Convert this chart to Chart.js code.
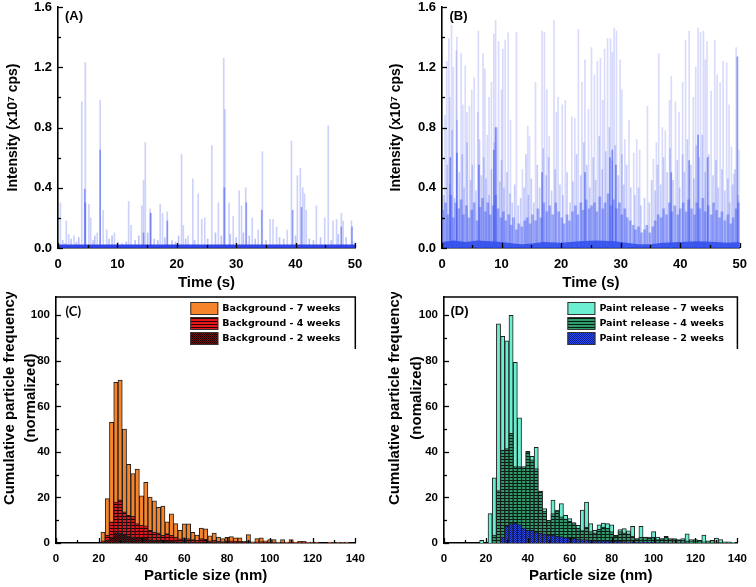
<!DOCTYPE html>
<html>
<head>
<meta charset="utf-8">
<script src="https://cdn.jsdelivr.net/npm/chart.js@4.4.1/dist/chart.umd.min.js"></script>
<style>
  body { margin: 0; background: #fff; }
  .panel { position: absolute; }
</style>
</head>
<body>
<div class="panel" style="left:0;top:0;width:378px;height:292px"><canvas id="chartA"></canvas></div>
<div class="panel" style="left:378px;top:0;width:378px;height:292px"><canvas id="chartB"></canvas></div>
<div class="panel" style="left:0;top:292px;width:378px;height:295px"><canvas id="chartC"></canvas></div>
<div class="panel" style="left:378px;top:292px;width:378px;height:295px"><canvas id="chartD"></canvas></div>
<script>
// tick labels
const timeTicks = [0, 10, 20, 30, 40, 50];
const intensityTicks = [0, 0.4, 0.8, 1.2, 1.6];
const sizeTicks = [0, 20, 40, 60, 80, 100, 120, 140];
const freqTicks = [0, 20, 40, 60, 80, 100];

// (A) background spikes [time s, intensity x10^7 cps]
const aTall = [[0.4,0.30],[1.4,0.18],[1.8,0.09],[2.7,0.08],[4.0,0.97],[4.6,1.23],[5.2,0.29],[5.5,0.2],[6.6,0.1],[7.1,0.98],
  [7.6,0.25],[8.2,0.12],[9.5,0.1],[11.9,0.31],[12.3,0.15],[14.1,0.28],[14.4,0.45],[14.7,0.70],[15.5,0.26],[15.6,0.23],
  [17.2,0.29],[17.6,0.23],[18.4,0.24],[20.8,0.62],[21.1,0.15],[21.9,0.08],[22.7,0.46],[23.6,0.36],[24.2,0.19],[24.7,0.2],
  [25.9,0.68],[27.0,0.3],[27.9,1.26],[28.1,0.92],[28.8,0.3],[29.5,0.21],[30.5,0.38],[30.9,0.28],[31.6,0.40],[32.7,0.2],
  [33.7,0.12],[34.4,0.64],[35.7,0.19],[36.2,0.19],[36.8,0.14],[38.6,0.12],[39.3,0.71],[40.3,0.48],[40.8,0.53],[41.2,0.40],
  [41.5,0.36],[41.8,0.25],[43.5,0.28],[44.9,0.2],[45.5,0.81],[46.3,0.18],[46.9,0.19],[47.7,0.23],[48.0,0.18],[49.4,0.18],[49.9,0.04]];
const aSmall = [[0.8,0.05],[1.2,0.03],[2.2,0.06],[3.1,0.04],[3.5,0.07],[5.9,0.05],[6.2,0.08],[8.6,0.06],[9.1,0.08],[10.1,0.04],
  [10.8,0.03],[11.5,0.04],[13.0,0.05],[13.6,0.08],[15.1,0.1],[16.2,0.06],[16.8,0.05],[18.0,0.07],[19.2,0.05],[19.8,0.04],
  [20.3,0.08],[21.5,0.06],[23.0,0.05],[25.2,0.06],[26.5,0.1],[27.5,0.08],[29.0,0.09],[30.0,0.07],[31.2,0.1],[32.2,0.08],
  [33.2,0.06],[35.0,0.05],[37.3,0.07],[38.0,0.06],[40.0,0.08],[42.3,0.06],[43.0,0.05],[44.2,0.07],[46.0,0.05],[47.2,0.09],[48.5,0.07]];
const aDark = [[4.5,0.39],[4.6,0.3],[7.1,0.65],[14.4,0.1],[15.6,0.23],[18.4,0.18],[28.0,0.4],[31.7,0.3],[34.3,0.25],
  [39.5,0.25],[41.0,0.27],[47.7,0.14],[49.5,0.14]];
const aBase = [[0,0.012],[50,0.012]];

// (B) paint release spikes
const bTall = [[0.5,0.88],[0.8,1.24],[1.15,1.39],[1.3,1.0],[1.6,1.48],[1.9,1.2],[2.4,1.31],[2.5,1.4],[3.2,1.29],[3.5,0.95],
  [3.9,1.21],[4.2,0.9],[4.6,0.94],[5.0,1.05],[5.4,1.13],[6.0,0.9],[6.1,1.44],[6.9,1.29],[7.2,1.19],[7.6,0.75],[7.9,1.0],
  [8.3,1.1],[8.7,1.42],[9.0,1.51],[9.5,1.37],[10.0,1.05],[10.2,1.32],[10.6,1.38],[11.1,1.43],[11.5,0.85],[12.5,1.43],
  [13.5,0.52],[14.4,0.81],[14.7,0.74],[15.7,1.1],[16.8,1.44],[17.2,1.43],[17.6,1.05],[18.0,0.74],[18.8,1.51],[19.2,0.9],
  [19.5,1.0],[20.2,0.95],[20.7,0.98],[21.8,0.87],[22.3,0.86],[22.9,1.45],[23.5,1.1],[24.0,1.25],[24.6,0.92],[25.1,1.33],
  [25.6,1.15],[26.1,1.24],[26.6,1.26],[27.0,0.98],[27.3,1.32],[27.8,1.39],[28.3,1.39],[28.6,1.3],[28.9,1.46],[29.3,1.44],
  [29.9,1.25],[30.2,1.05],[30.7,0.72],[31.4,0.85],[32.2,0.63],[32.7,0.72],[33.2,0.65],[34.5,0.94],[35.5,0.59],[36.0,0.7],
  [36.4,1.29],[37.0,0.8],[37.5,0.78],[38.2,0.98],[38.5,1.14],[39.2,0.97],[39.8,0.9],[40.4,1.1],[40.9,1.38],[41.5,1.44],
  [42.2,1.0],[42.6,1.2],[43.0,1.46],[43.4,1.43],[43.9,1.44],[44.2,1.25],[44.5,1.37],[45.2,1.04],[45.8,1.38],[46.2,1.15],
  [46.7,1.1],[47.2,1.24],[47.8,1.23],[48.2,0.95],[48.6,0.67],[49.0,0.49],[49.4,1.33],[49.9,0.65]];
const bMid = [[0.3,0.35],[0.9,0.55],[1.3,0.42],[1.7,0.78],[2.1,0.33],[2.5,0.85],[2.9,0.5],[3.4,0.62],[3.7,0.4],[4.2,0.7],
  [4.8,0.45],[5.1,0.55],[5.7,0.38],[6.3,0.72],[6.6,0.48],[7.0,0.6],[7.4,0.46],[7.9,0.35],[8.3,0.52],[8.8,0.7],[9.2,0.8],
  [9.7,0.44],[10.0,0.58],[10.4,0.4],[10.9,0.5],[11.4,0.36],[11.8,0.3],[12.2,0.42],[12.8,0.28],[13.2,0.33],[13.8,0.4],
  [14.1,0.62],[14.5,0.35],[15.0,0.46],[15.4,0.3],[16.0,0.55],[16.4,0.4],[17.0,0.66],[17.5,0.48],[17.9,0.6],[18.4,0.38],
  [19.0,0.52],[19.8,0.42],[20.3,0.35],[21.0,0.5],[21.5,0.3],[22.0,0.44],[22.6,0.62],[23.3,0.48],[23.8,0.7],[24.3,0.55],
  [24.8,0.4],[25.4,0.6],[25.8,0.45],[26.4,0.74],[26.9,0.52],[27.5,0.64],[28.1,0.8],[28.6,0.58],[29.1,0.68],[29.6,0.48],
  [30.2,0.62],[30.5,0.42],[31.0,0.55],[31.7,0.4],[32.4,0.35],[33.0,0.4],[33.4,0.28],[34.0,0.33],[34.8,0.3],[35.2,0.45],
  [35.8,0.38],[36.2,0.55],[36.7,0.42],[37.2,0.6],[37.8,0.5],[38.3,0.66],[38.8,0.45],[39.5,0.58],[39.9,0.4],[40.4,0.62],
  [40.7,0.5],[41.2,0.72],[41.8,0.55],[42.3,0.46],[42.7,0.68],[43.2,0.6],[43.7,0.75],[44.2,0.5],[44.8,0.62],[45.5,0.48],
  [46.0,0.58],[46.4,0.4],[47.0,0.52],[47.5,0.38],[48.0,0.46],[48.3,0.3],[48.8,0.42],[49.2,0.52],[49.7,0.35]];
const bLow = [[0.1,0.25],[0.6,0.3],[1.0,0.22],[1.5,0.35],[1.9,0.2],[2.3,0.3],[2.8,0.26],[3.2,0.32],[3.6,0.22],[4.1,0.28],
  [4.5,0.2],[5.0,0.25],[5.4,0.3],[5.9,0.18],[6.4,0.27],[6.8,0.33],[7.3,0.24],[7.7,0.3],[8.1,0.22],[8.6,0.28],[9.0,0.35],
  [9.4,0.26],[9.9,0.2],[10.3,0.24],[10.7,0.18],[11.2,0.22],[11.6,0.15],[12.0,0.2],[12.5,0.12],[12.9,0.16],[13.4,0.14],
  [13.9,0.18],[14.3,0.2],[14.8,0.16],[15.2,0.22],[15.7,0.18],[16.1,0.26],[16.6,0.2],[17.1,0.3],[17.6,0.24],[18.1,0.28],
  [18.6,0.22],[19.1,0.3],[19.6,0.24],[20.1,0.2],[20.5,0.16],[21.0,0.22],[21.4,0.18],[21.9,0.24],[22.4,0.28],[22.8,0.22],
  [23.3,0.3],[23.7,0.25],[24.2,0.32],[24.7,0.26],[25.1,0.28],[25.6,0.3],[26.0,0.24],[26.5,0.34],[27.0,0.26],[27.4,0.3],
  [27.9,0.36],[28.4,0.28],[28.8,0.32],[29.3,0.26],[29.8,0.3],[30.2,0.22],[30.7,0.26],[31.1,0.2],[31.6,0.18],[32.1,0.15],
  [32.5,0.12],[33.0,0.14],[33.5,0.1],[34.0,0.12],[34.4,0.15],[34.9,0.1],[35.4,0.14],[35.8,0.18],[36.3,0.22],[36.8,0.2],
  [37.2,0.26],[37.7,0.22],[38.2,0.3],[38.6,0.24],[39.1,0.28],[39.6,0.22],[40.0,0.26],[40.5,0.3],[41.0,0.24],[41.4,0.32],
  [41.9,0.26],[42.4,0.22],[42.8,0.3],[43.3,0.26],[43.8,0.33],[44.2,0.24],[44.7,0.28],[45.2,0.22],[45.6,0.3],[46.1,0.25],
  [46.6,0.2],[47.0,0.24],[47.5,0.18],[48.0,0.22],[48.5,0.16],[48.9,0.2],[49.4,0.26],[49.8,0.3]];
const bDark = [[1.4,0.6],[2.5,0.63],[6.2,0.55],[8.7,0.65],[9.0,0.8],[16.8,0.5],[24.0,0.5],[28.2,0.6],[28.6,0.65],
  [29.2,0.55],[38.5,0.5],[41.5,0.58],[43.0,0.75],[44.6,0.6],[49.6,1.27]];
const bBase = [[0,0.04],[2,0.05],[4,0.04],[6,0.05],[8,0.045],[10,0.04],[12,0.03],[13.5,0.025],[15,0.03],[17,0.04],[20,0.035],
  [23,0.045],[26,0.05],[29,0.045],[31,0.035],[33,0.025],[35,0.025],[37,0.035],[40,0.04],[43,0.045],[46,0.04],[48,0.035],[50,0.04]];

// (C)/(D) histograms, bin centres in nm
const sizeBins = [18,20,22,24,26,28,30,32,34,36,38,40,42,44,46,48,50,52,54,56,58,60,62,64,66,68,70,72,74,76,
  78,80,82,84,86,88,90,92,94,96,98,100,102,104,106,108,110,112,114,116,118,120,122,124,126,128,130,132,134,136,138];
const bg7 = [0,0,4.8,19.5,53,70.5,71.5,50,34.5,30.5, 32.5,20.7,26.6,20.2,18.5,15.7,16.2,9.3,12.8,8.5,
  5.6,8.4,8.4,4.7,3.5,6.5,6.2,3.1,4.4,2.6, 1.9,2.5,2.8,2.3,2.3,0.7,3.7,0.5,1.9,2.3,
  0.9,1.5,1.5,0.3,1.5,0.4,1.5,0.4,0.7,0.7, 0.3,0.4,0.4,0,0,0.4,0.2,0.4,0.2,0.4, 0];
const bg4 = [0,0,1,3.4,9.3,18,19,13.7,12.2,11.7, 8.5,7.8,7.5,5.6,4.8,4.5,3.4,4.1,3.4,2.6,
  1.8,2.3,1.9,1.5,1.2,1.9,1.6,1.0,1.2,0.8, 0.6,0.8,0.9,0.7,0.7,0.3,0.9,0.2,0.5,0.6,
  0.3,0.4,0.4,0.1,0.4,0.1,0.4,0.1,0.2,0.2, 0.1,0.1,0.1,0,0,0.1,0,0.1,0,0.1, 0];
const bg2 = [0,0,0.3,1.2,2.5,4.5,4.2,3.5,3,2.6, 2.4,2,2,1.5,1.2,1.1,0.9,1,0.8,0.6,
  0.5,0.6,0.5,0.4,0.3,0.5,0.4,0.3,0.3,0.2, 0.2,0.2,0.2,0.2,0.2,0.1,0.2,0,0.1,0.1,
  0.1,0.1,0.1,0,0.1,0,0.1,0,0,0, 0,0,0,0,0,0,0,0,0,0, 0];
const pr7 = [1.2,0,12.9,28.6,96.2,90.7,88.8,99.9,79.3,54.9, 33.5,40.2,38,42,22.8,15.1,10,18.8,14.4,17.3,
  12.2,10.7,9,7.8,14.4,18,8.5,5.6,8,8.8, 8.5,8,3.4,5.9,6.3,5.3,7.3,1.9,7.3,2.6,
  2.6,5,2.6,1.9,2.9,1.9,1.9,1.5,1.9,4, 1.5,1.5,1.2,3.5,0.9,1.2,2.2,1.5,0.5,0.5, 0.3];
const pr4 = [0,0,0,3.5,23,40.8,41.5,48.2,33.5,33.5, 33,40,36.5,32.7,22.8,14,10,12.9,14,11.5,
  10.5,9.5,8.5,6.5,5.5,7,5,4.5,6,7, 6.5,5,3,5,4.5,4,3,1.8,2.5,2.5,
  2,2.5,1.5,1.8,2.5,1.5,1.5,1.2,1.2,1, 1,1,1,0.5,0.5,0.5,0.5,0.3,0.2,0.2, 0];
const pr2 = [0,0,0,0,0,2.6,7.3,8.5,8.8,8.1, 6.6,5.6,5.6,4.8,4.4,4,3.5,3.5,3,2.8,
  2.5,2,2,1.8,1.5,1.5,1.2,1,1,1, 1,1,0.8,0.8,0.6,0.5,0.5,0.4,0.4,0.3,
  0.3,0.3,0.2,0.2,0.2,0.1,0.1,0.1,0.1,0.1, 0,0,0,0,0,0,0,0,0,0, 0];

const tickFont = { family: 'Liberation Sans', size: 13, weight: 'bold' };
const sizeTickFont = { family: 'Liberation Sans', size: 11.5, weight: 'bold' };
const titleFont = { family: 'Liberation Sans', size: 15, weight: 'bold' };

function pattern(w, h, base, ink, draw) {
  const c = document.createElement('canvas');
  c.width = w; c.height = h;
  const g = c.getContext('2d');
  g.fillStyle = base; g.fillRect(0, 0, w, h);
  g.fillStyle = ink; draw(g);
  return g.createPattern(c, 'repeat');
}
const redLines = pattern(4, 3, '#e5171d', '#2a0000', g => g.fillRect(0, 2, 4, 1));
const darkCheck = pattern(2, 2, '#74100f', '#140000', g => { g.fillRect(0, 0, 1, 1); g.fillRect(1, 1, 1, 1); });
const greenLines = pattern(4, 3, '#2f9c6c', '#061c12', g => g.fillRect(0, 2, 4, 1));
const blueDots = pattern(2, 2, '#2a4cf4', '#0c1a92', g => { g.fillRect(0, 0, 1, 1); g.fillRect(1, 1, 1, 1); });

// inward major/minor tick marks
const inTicks = {
  id: 'inTicks',
  afterDatasetsDraw(chart) {
    const ctx = chart.ctx, a = chart.chartArea;
    ctx.save();
    ctx.strokeStyle = '#000';
    ctx.lineWidth = 1.3;
    function mark(s, v, len) {
      const p = Math.round(s.getPixelForValue(v)) + 0.5;
      ctx.beginPath();
      if (s.axis === 'x') { ctx.moveTo(p, a.bottom); ctx.lineTo(p, a.bottom - len); }
      else { ctx.moveTo(a.left, p); ctx.lineTo(a.left + len, p); }
      ctx.stroke();
    }
    ['x', 'y'].forEach(function (id) {
      const s = chart.scales[id];
      const vals = s.ticks.map(t => t.value);
      for (let i = 0; i < vals.length; i++) {
        mark(s, vals[i], 5);
        if (i < vals.length - 1) mark(s, (vals[i] + vals[i + 1]) / 2, 3);
      }
    });
    ctx.restore();
  }
};

const panelTag = {
  id: 'panelTag',
  afterDraw(chart, args, opts) {
    const ctx = chart.ctx, a = chart.chartArea;
    ctx.save();
    ctx.font = opts.font;
    ctx.fillStyle = '#000';
    ctx.textBaseline = 'middle';
    ctx.fillText(opts.text, a.left + opts.dx, a.top + opts.dy);
    ctx.restore();
  }
};

// two-line rotated y title, shifted like the original
const sideTitle = {
  id: 'sideTitle',
  afterDraw(chart, args, opts) {
    const ctx = chart.ctx;
    ctx.save();
    ctx.font = 'bold 15px "Liberation Sans"';
    ctx.fillStyle = '#000';
    ctx.textAlign = 'center';
    ctx.textBaseline = 'middle';
    opts.lines.forEach(function (line, i) {
      ctx.save();
      ctx.translate(opts.x[i], opts.y);
      ctx.rotate(-Math.PI / 2);
      ctx.fillText(line, 0, 0);
      ctx.restore();
    });
    ctx.restore();
  }
};

// framed legend in the top right corner
const boxLegend = {
  id: 'boxLegend',
  afterDraw(chart, args, opts) {
    const ctx = chart.ctx, a = chart.chartArea;
    const x0 = a.right - opts.width;
    ctx.save();
    ctx.font = 'bold 9.5px "DejaVu Sans"';
    ctx.textBaseline = 'middle';
    chart.data.datasets.forEach(function (ds, i) {
      const top = a.top + 5 + i * 15;
      ctx.fillStyle = ds.backgroundColor;
      ctx.fillRect(x0, top, 28, 13);
      ctx.strokeStyle = '#333';
      ctx.lineWidth = 1;
      ctx.strokeRect(x0 + 0.5, top + 0.5, 27, 12);
      ctx.fillStyle = '#000';
      ctx.fillText(ds.label, x0 + 32, top + 7);
    });
    ctx.strokeStyle = '#000';
    ctx.lineWidth = 1.5;
    ctx.beginPath();
    ctx.moveTo(a.left, a.top);
    ctx.lineTo(a.right, a.top);
    ctx.lineTo(a.right, a.top + 52);
    ctx.stroke();
    ctx.restore();
  }
};

function spikes(pairs, color, w) {
  return {
    data: pairs.map(p => ({ x: p[0], y: p[1] })),
    backgroundColor: color,
    barThickness: w,
    grouped: false,
    borderWidth: 0
  };
}

function fitY(width) {
  return function (s) { s.width = width; s.paddingTop = 0; s.paddingBottom = 0; };
}

function timeOptions(tag, yWidth, padRight, titlePad, dx) {
  return {
    responsive: true,
    maintainAspectRatio: false,
    animation: false,
    layout: { padding: { left: 0, right: padRight, top: 7, bottom: 0 } },
    plugins: {
      legend: { display: false },
      tooltip: { enabled: false },
      panelTag: { text: tag, dx: dx, dy: 9, font: 'bold 13px "Liberation Sans"' }
    },
    scales: {
      x: {
        type: 'linear', min: 0, max: 50, offset: false,
        grid: { display: false, drawTicks: false },
        border: { color: '#000', width: 1.6 },
        afterBuildTicks: s => { s.ticks = timeTicks.map(v => ({ value: v })); },
        afterFit: s => { s.height = 44; },
        ticks: { color: '#000', padding: 9, maxRotation: 0, font: tickFont },
        title: { display: true, text: 'Time (s)', color: '#000', font: titleFont, padding: 0 }
      },
      y: {
        min: 0, max: 1.6,
        grid: { display: false, drawTicks: false },
        border: { color: '#000', width: 1.6 },
        afterBuildTicks: s => { s.ticks = intensityTicks.map(v => ({ value: v })); },
        afterFit: fitY(yWidth),
        ticks: { color: '#000', padding: 6, font: tickFont, callback: v => v.toFixed(1) },
        title: {
          display: true, text: 'Intensity (x10\u2077 cps)', color: '#000',
          font: { family: 'Liberation Sans', size: 14, weight: 'bold' },
          padding: { top: titlePad, bottom: 0 }
        }
      }
    }
  };
}

function sizeOptions(tag, tagFont, dx, yWidth, padRight, yLines, linesX, legendWidth) {
  return {
    responsive: true,
    maintainAspectRatio: false,
    animation: false,
    layout: { padding: { left: 0, right: padRight, top: 5, bottom: 0 } },
    plugins: {
      legend: { display: false },
      tooltip: { enabled: false },
      panelTag: { text: tag, dx: dx, dy: 14.5, font: tagFont },
      sideTitle: { lines: yLines, x: linesX, y: 106 },
      boxLegend: { width: legendWidth }
    },
    scales: {
      x: {
        type: 'linear', min: 0, max: 140, offset: false,
        grid: { display: false, drawTicks: false },
        border: { color: '#000', width: 1.6 },
        afterBuildTicks: s => { s.ticks = sizeTicks.map(v => ({ value: v })); },
        afterFit: s => { s.height = 44; },
        ticks: { color: '#000', padding: 9, maxRotation: 0, font: sizeTickFont },
        title: { display: true, text: 'Particle size (nm)', color: '#000', font: titleFont, padding: { top: 0, bottom: 2 } }
      },
      y: {
        min: 0, max: 108,
        grid: { display: false, drawTicks: false },
        border: { color: '#000', width: 1.6 },
        afterBuildTicks: s => { s.ticks = freqTicks.map(v => ({ value: v })); },
        afterFit: fitY(yWidth),
        ticks: { color: '#000', padding: 6, font: sizeTickFont }
      }
    }
  };
}

function hist(label, values, fill, order) {
  return {
    label: label,
    data: values.map((v, i) => ({ x: sizeBins[i], y: v })),
    backgroundColor: fill,
    borderColor: '#1e1e1e',
    borderWidth: 1,
    barPercentage: 1,
    categoryPercentage: 1,
    grouped: false,
    order: order
  };
}

new Chart(document.getElementById('chartA'), {
  type: 'bar',
  data: {
    datasets: [
      { type: 'line', data: aBase.map(p => ({ x: p[0], y: p[1] })), borderColor: 'rgba(40,60,230,0.95)', borderWidth: 3.5, pointRadius: 0 },
      spikes(aDark, 'rgba(70,90,240,0.55)', 1),
      spikes(aTall, 'rgba(90,105,240,0.3)', 1),
      spikes(aSmall, 'rgba(90,105,240,0.4)', 1)
    ]
  },
  options: timeOptions('(A)', 58, 23, 5, 7),
  plugins: [inTicks, panelTag]
});

new Chart(document.getElementById('chartB'), {
  type: 'bar',
  data: {
    datasets: [
      spikes(bDark, 'rgba(60,85,240,0.6)', 1),
      { type: 'line', data: bBase.map(p => ({ x: p[0], y: p[1] })), borderWidth: 0, pointRadius: 0, fill: 'origin', backgroundColor: 'rgba(45,75,235,0.85)' },
      spikes(bLow, 'rgba(60,85,240,0.45)', 2),
      spikes(bMid, 'rgba(80,100,240,0.32)', 1),
      spikes(bTall, 'rgba(90,105,240,0.24)', 1)
    ]
  },
  options: timeOptions('(B)', 64, 9, 10, 7.5),
  plugins: [inTicks, panelTag]
});

new Chart(document.getElementById('chartC'), {
  type: 'bar',
  data: {
    datasets: [
      hist('Background - 7 weeks', bg7, '#f5842b', 3),
      hist('Background - 4 weeks', bg4, redLines, 2),
      hist('Background - 2 weeks', bg2, darkCheck, 1)
    ]
  },
  options: sizeOptions('(C)', 'bold 13px Lato', 9.5, 56, 22.7,
    ['Cumulative particle frequency', '(normalized)'], [10, 31], 165),
  plugins: [inTicks, panelTag, sideTitle, boxLegend]
});

new Chart(document.getElementById('chartD'), {
  type: 'bar',
  data: {
    datasets: [
      hist('Paint release - 7 weeks', pr7, '#6cefd0', 3),
      hist('Paint release - 4 weeks', pr4, greenLines, 2),
      hist('Paint release - 2 weeks', pr2, blueDots, 1)
    ]
  },
  options: sizeOptions('(D)', 'bold 13px "Liberation Sans"', 6.5, 66, 12.3,
    ['Cumulative particle frequency', '(nomalized)'], [17, 39], 170),
  plugins: [inTicks, panelTag, sideTitle, boxLegend]
});
</script>
</body>
</html>
